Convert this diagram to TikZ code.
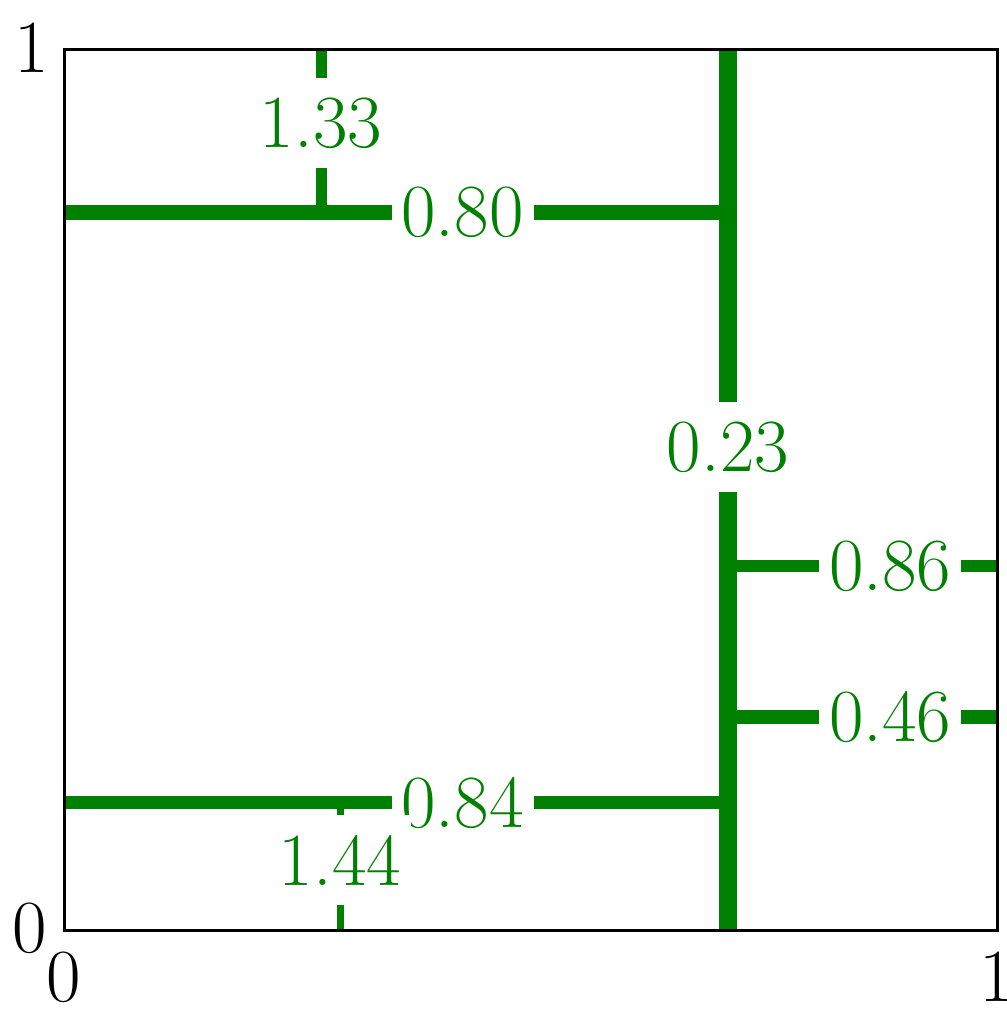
\documentclass[tikz,border=0pt]{standalone}
\definecolor{mplgreen}{RGB}{0,128,0}
\tikzset{
  glabel/.style={fill=white, text=mplgreen, inner sep=0pt, minimum width=142pt, minimum height=90pt, font=\fontsize{75}{80}\selectfont},
  axlabel/.style={text=black, inner sep=0pt, font=\fontsize{75}{80}\selectfont},
  gline/.style={draw=mplgreen, line cap=butt},
  frame/.style={draw=black, line width=3pt}
}
\begin{document}
\begin{tikzpicture}[x=1pt,y=1pt]
\useasboundingbox (0,0) rectangle (1006,1011);
% corners of the frame
\coordinate (bl) at (64,80);
\coordinate (tr) at (997,961);
% main vertical split
\coordinate (vT) at (728,961);
\coordinate (vB) at (728,80);
\draw[gline, line width=18pt] (vT) -- (vB);
% upper-left horizontal (0.80)
\coordinate (hAL) at (64,798.5);
\coordinate (hAR) at (728,798.5);
\draw[gline, line width=15pt] (hAL) -- (hAR);
% 1.33 vertical
\coordinate (aT) at (321,961);
\coordinate (aB) at (321,798.5);
\draw[gline, line width=11pt] (aT) -- (aB);
% lower-left horizontal (0.84)
\coordinate (hBL) at (64,208);
\coordinate (hBR) at (728,208);
\draw[gline, line width=13pt] (hBL) -- (hBR);
% 1.44 vertical
\coordinate (bT) at (340,208);
\coordinate (bB) at (340,80);
\draw[gline, line width=7pt] (bT) -- (bB);
% right horizontals
\coordinate (cL) at (728,445);
\coordinate (cR) at (997,445);
\draw[gline, line width=12pt] (cL) -- (cR);
\coordinate (dL) at (728,294);
\coordinate (dR) at (997,294);
\draw[gline, line width=14pt] (dL) -- (dR);
% labels
\node[glabel] (l023) at (728,563.5) {0.23};
\node[glabel] (l080) at (462.5,798.5) {0.80};
\node[glabel] (l133) at (321,888) {1.33};
\node[glabel] (l084) at (462.5,208) {0.84};
\node[glabel] (l144) at (340,150.5) {1.44};
\node[glabel] (l086) at (890,445) {0.86};
\node[glabel] (l046) at (890,294) {0.46};
% frame
\draw[frame] (bl) rectangle (tr);
% axis labels
\node[axlabel] (ytop) at (32,963) {1};
\node[axlabel] (ybot) at (30,83) {0};
\node[axlabel] (xleft) at (64,34) {0};
\node[axlabel] (xright) at (997,34) {1};
\end{tikzpicture}
\end{document}
